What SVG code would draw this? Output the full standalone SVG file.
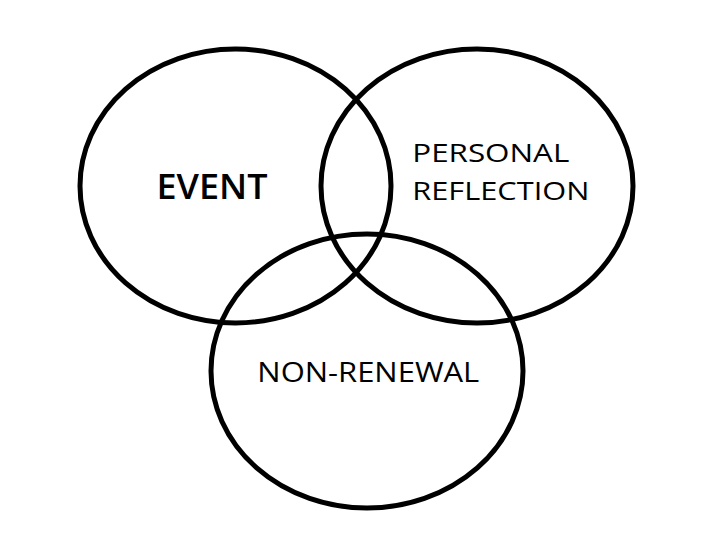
<svg xmlns="http://www.w3.org/2000/svg" width="720" height="540" viewBox="0 0 720 540">
<style>
.c{fill:none;stroke:#000;stroke-width:5}
.t{font-family:"Open Sans","Noto Sans","Liberation Sans",sans-serif;fill:#000}
.b{font-weight:600}
</style>
<rect width="720" height="540" fill="#fff"/>
<g id="event">
<ellipse class="c" cx="235.5" cy="186" rx="155.5" ry="137"/>
<text class="t b" x="156.5" y="199.3" font-size="35" textLength="111" lengthAdjust="spacingAndGlyphs">EVENT</text>
</g>
<g id="personal-reflection">
<ellipse class="c" cx="477" cy="186" rx="156" ry="137"/>
<text class="t" x="412.3" y="161.7" font-size="26" textLength="157" lengthAdjust="spacingAndGlyphs">PERSONAL</text>
<text class="t" x="412.3" y="200" font-size="26" textLength="177" lengthAdjust="spacingAndGlyphs">REFLECTION</text>
</g>
<g id="non-renewal">
<ellipse class="c" cx="367" cy="371" rx="156" ry="137"/>
<text class="t" x="257.3" y="382.3" font-size="28" textLength="222" lengthAdjust="spacingAndGlyphs">NON-RENEWAL</text>
</g>
<g id="connectors"/>
</svg>
